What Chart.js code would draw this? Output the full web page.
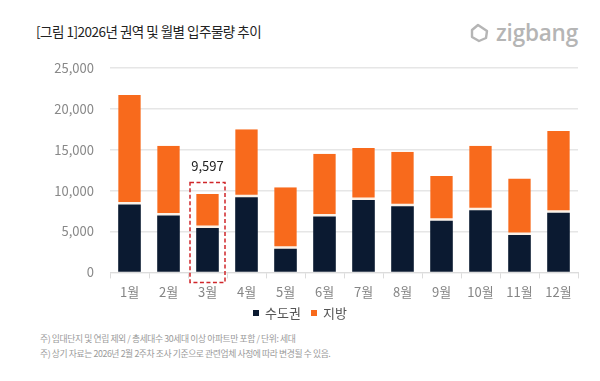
<!DOCTYPE html>
<html><head><meta charset="utf-8">
<script src="https://cdn.jsdelivr.net/npm/chart.js@4"></script>
<style>
html,body{margin:0;padding:0;background:#fff;}
body{width:600px;height:381px;position:relative;overflow:hidden;font-family:"Noto Sans CJK KR","Noto Sans",sans-serif;}
#title{position:absolute;left:36px;top:21px;font-size:13.5px;color:#222;letter-spacing:-0.5px;}
#logo{position:absolute;left:468px;top:17px;display:flex;align-items:center;color:#b5b5b5;font-family:"Open Sans","Noto Sans",sans-serif;font-size:22.5px;font-weight:600;letter-spacing:-0.2px;}
#logo svg{margin-right:6px;}
#wrap{position:absolute;left:0;top:0;width:600px;height:306px;}
#legend{position:absolute;left:0;width:600px;top:303px;display:flex;justify-content:center;gap:10px;font-size:13px;color:#555;}
#legend span.item{display:flex;align-items:center;}
#legend i{display:inline-block;width:6px;height:6px;margin-right:6px;}
.note{position:absolute;left:40px;font-size:8.8px;color:#9a9a9a;letter-spacing:-0.4px;}
</style></head>
<body>
<div id="title">[그림 1]2026년 권역 및 월별 입주물량 추이</div>
<div id="logo"><svg width="22" height="22" viewBox="0 0 22 22"><path d="M4 8 L10 3 L19 9 L18 16 L11 19 L4 15 Z" fill="none" stroke="#b5b5b5" stroke-width="2.4" stroke-linejoin="round"/></svg>zigbang</div>
<div id="wrap"><canvas id="c" width="600" height="306"></canvas></div>
<div id="legend"></div>
<div class="note" style="top:332px">주) 임대단지 및 연립 제외 / 총세대수 30세대 이상 아파트만 포함 / 단위: 세대</div>
<div class="note" style="top:347px">주) 상기 자료는 2026년 2월 2주차 조사 기준으로 관련업체 사정에 따라 변경될 수 있음.</div>
<script>
const months = ['1월','2월','3월','4월','5월','6월','7월','8월','9월','10월','11월','12월'];
const capital = [8300, 6950, 5430, 9200, 2900, 6850, 8850, 8100, 6330, 7600, 4570, 7300];
const regional = [13400, 8550, 4167, 8300, 7500, 7650, 6350, 6650, 5470, 7900, 6930, 10000];
const seriesNames = ['수도권', '지방'];
const yTicks = [0, 5000, 10000, 15000, 20000, 25000];
const highlightIndex = 2;
const highlightLabel = '9,597';

const FONT = '"Noto Sans CJK KR","Noto Sans",sans-serif';
const COLORS = ['#0b1a31', '#f86a1c'];

const highlightPlugin = {
  id: 'highlight',
  afterDatasetsDraw(chart) {
    const {ctx, scales:{x, y}} = chart;
    const cx = x.getPixelForValue(highlightIndex);
    const top = y.getPixelForValue(11000);
    const bottom = y.getPixelForValue(0) + 10;
    ctx.save();
    ctx.strokeStyle = '#d0262a';
    ctx.lineWidth = 1.5;
    ctx.setLineDash([4, 2.5]);
    ctx.strokeRect(cx - 17.5, top, 35, bottom - top);
    ctx.setLineDash([]);
    ctx.fillStyle = '#222';
    ctx.font = '13px ' + FONT;
    ctx.textAlign = 'center';
    ctx.textBaseline = 'middle';
    ctx.fillText(highlightLabel, cx, top - 16);
    ctx.restore();
  }
};

const chart = new Chart(document.getElementById('c'), {
  type: 'bar',
  data: {
    labels: months,
    datasets: [
      {label: seriesNames[0], data: capital, backgroundColor: COLORS[0], borderWidth: 0, barPercentage: 0.58, categoryPercentage: 1},
      {label: seriesNames[1], data: regional, backgroundColor: COLORS[1], borderColor: '#fbf1e6', borderWidth: {bottom: 2.5, top:0, left:0, right:0}, borderSkipped: false, barPercentage: 0.58, categoryPercentage: 1}
    ]
  },
  options: {
    responsive: false,
    animation: false,
    layout: {padding: {left: 0, right: 22, top: 68, bottom: 0}},
    plugins: {
      legend: {display: false},
      tooltip: {enabled: false}
    },
    scales: {
      x: {
        stacked: true,
        grid: {display: true, drawOnChartArea: false, drawTicks: true, tickLength: 6, color: '#dcdcdc', offset: true},
        border: {color: '#dcdcdc'},
        ticks: {color: '#858585', font: {family: FONT, size: 13}, padding: 6}
      },
      y: {
        stacked: true,
        min: 0, max: 25000,
        afterBuildTicks(s) { s.ticks = yTicks.map(v => ({value: v})); },
        afterFit(s) { s.width = 110; },
        grid: {color: '#e6e6e6', drawTicks: false, lineWidth: 1.5},
        border: {display: false},
        ticks: {color: '#888', font: {family: FONT, size: 13}, padding: 16,
          callback: v => v.toLocaleString('en-US')}
      }
    }
  },
  plugins: [highlightPlugin]
});

const lg = document.getElementById('legend');
chart.data.datasets.forEach(ds => {
  const s = document.createElement('span'); s.className = 'item';
  const i = document.createElement('i'); i.style.background = ds.backgroundColor;
  s.appendChild(i); s.appendChild(document.createTextNode(ds.label));
  lg.appendChild(s);
});
</script>
</body></html>
